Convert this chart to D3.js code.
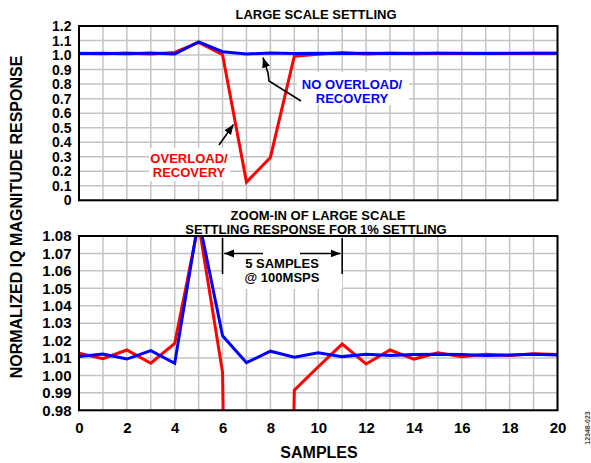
<!DOCTYPE html>
<html>
<head>
<meta charset="utf-8">
<script src="https://cdn.jsdelivr.net/npm/d3@7"></script>
<style>
  html, body { margin: 0; padding: 0; background: #fff; }
  svg { display: block; }
  text { font-family: Arial, "Liberation Sans", Helvetica, sans-serif; font-weight: bold; }
</style>
</head>
<body>
<svg id="chart" width="591" height="463"></svg>
<script>
// ---------- data ----------
const samples = [0,1,2,3,4,5,6,7,8,9,10,11,12,13,14,15,16,17,18,19,20];
const overloadRecovery = [1.0127, 1.0096, 1.0146, 1.0070, 1.0184, 1.087, 1.0018, 0.125, 0.295, 0.9916, 1.005,
                          1.018, 1.0066, 1.0146, 1.0094, 1.0130, 1.0108, 1.0122, 1.0115, 1.0125, 1.0120];
const noOverloadRecovery = [1.0108, 1.0123, 1.0094, 1.0142, 1.0070, 1.09, 1.0228, 1.0073, 1.0139, 1.0104, 1.0130,
                            1.0108, 1.0122, 1.0115, 1.0120, 1.0122, 1.0120, 1.0115, 1.0117, 1.0122, 1.0117];
const topYTicks = [0, 0.1, 0.2, 0.3, 0.4, 0.5, 0.6, 0.7, 0.8, 0.9, 1.0, 1.1, 1.2];
const botYTicks = [0.98, 0.99, 1.00, 1.01, 1.02, 1.03, 1.04, 1.05, 1.06, 1.07, 1.08];
const xTicks = [0, 2, 4, 6, 8, 10, 12, 14, 16, 18, 20];
const xGrid = samples;
const settleStart = 6, settleEnd = 11;

// ---------- layout ----------
const svg = d3.select("#chart");
const RED = "#ff0000", BLUE = "#0000ff", GRID = "#c4c4c4";
const x = d3.scaleLinear().domain([0, 20]).range([79, 557.5]);
const yTop = d3.scaleLinear().domain([0, 1.2]).range([200.3, 26]);
const yBot = d3.scaleLinear().domain([0.98, 1.08]).range([410.3, 236]);

svg.append("rect").attr("width", 591).attr("height", 463).attr("fill", "#fff");

const defs = svg.append("defs");
defs.append("marker").attr("id", "ah").attr("viewBox", "0 0 10 10")
  .attr("refX", 10).attr("refY", 5).attr("markerWidth", 10).attr("markerHeight", 10)
  .attr("markerUnits", "userSpaceOnUse").attr("orient", "auto")
  .append("path").attr("d", "M0,1 L10,5 L0,9 Z").attr("fill", "#000");

function label(parent, cx, y, s, size, color) {
  return parent.append("text").attr("x", cx).attr("y", y).attr("text-anchor", "middle")
    .attr("font-size", size).attr("fill", color).text(s);
}

function panel(y, yTicks, fmt, id, withX, fs) {
  const g = svg.append("g");
  const [y0, y1] = y.range();
  defs.append("clipPath").attr("id", id).append("rect")
    .attr("x", x(0)).attr("y", y1).attr("width", x(20) - x(0)).attr("height", y0 - y1);
  // grid
  g.append("g").selectAll("line").data(xGrid).join("line")
    .attr("x1", d => x(d)).attr("x2", d => x(d)).attr("y1", y1).attr("y2", y0)
    .attr("stroke", GRID).attr("stroke-width", 1.5);
  g.append("g").selectAll("line").data(yTicks).join("line")
    .attr("x1", x(0)).attr("x2", x(20)).attr("y1", d => y(d)).attr("y2", d => y(d))
    .attr("stroke", GRID).attr("stroke-width", 1.5);
  // y axis labels
  const ya = g.append("g").attr("transform", `translate(${x(0)},0)`)
    .call(d3.axisLeft(y).tickValues(yTicks).tickFormat(fmt).tickSize(0).tickPadding(7.5));
  ya.select(".domain").remove();
  ya.selectAll("text").attr("font-size", fs).attr("font-weight", "bold").attr("fill", "#000")
    .attr("font-family", "Arial, 'Liberation Sans', sans-serif");
  if (withX) {
    const xa = g.append("g").attr("transform", `translate(0,${y0})`)
      .call(d3.axisBottom(x).tickValues(xTicks).tickFormat(d3.format("d")).tickSize(0).tickPadding(12));
    xa.select(".domain").remove();
    xa.selectAll("text").attr("font-size", 15).attr("font-weight", "bold").attr("fill", "#000")
      .attr("font-family", "Arial, 'Liberation Sans', sans-serif");
  }
  return g;
}

function drawLines(g, y, id) {
  const line = d3.line().x((d, i) => x(samples[i])).y(d => y(d));
  const lg = g.append("g").attr("clip-path", `url(#${id})`);
  lg.append("path").datum(overloadRecovery).attr("d", line)
    .attr("fill", "none").attr("stroke", RED).attr("stroke-width", 3).attr("stroke-linejoin", "miter");
  lg.append("path").datum(noOverloadRecovery).attr("d", line)
    .attr("fill", "none").attr("stroke", BLUE).attr("stroke-width", 3).attr("stroke-linejoin", "miter");
}

function frame(g, y) {
  const [y0, y1] = y.range();
  g.append("rect").attr("x", x(0)).attr("y", y1).attr("width", x(20) - x(0)).attr("height", y0 - y1)
    .attr("fill", "none").attr("stroke", "#000").attr("stroke-width", 2);
}

// ---------- top panel ----------
const gTop = panel(yTop, topYTicks, d => d === 0 ? "0" : d3.format(".1f")(d), "clipTop", false, 14);
// annotation boxes
gTop.append("rect").attr("x", 149).attr("y", 148).attr("width", 81).attr("height", 33).attr("fill", "#fff");
gTop.append("rect").attr("x", 297).attr("y", 72).attr("width", 112).attr("height", 33).attr("fill", "#fff");
drawLines(gTop, yTop, "clipTop");
frame(gTop, yTop);

label(gTop, 189, 162.5, "OVERLOAD/", 13, RED);
label(gTop, 189, 176.5, "RECOVERY", 13, RED);
gTop.append("line").attr("x1", 219).attr("y1", 145).attr("x2", 233.5).attr("y2", 124.5)
  .attr("stroke", "#000").attr("stroke-width", 1.6).attr("marker-end", "url(#ah)");

label(gTop, 352, 88.5, "NO OVERLOAD/", 13, BLUE);
label(gTop, 352, 102.5, "RECOVERY", 13, BLUE);
gTop.append("path").attr("d", "M301,101 L269,81 L268,73 L263,57.5")
  .attr("fill", "none").attr("stroke", "#000").attr("stroke-width", 1.6).attr("marker-end", "url(#ah)");

label(svg, 316, 19, "LARGE SCALE SETTLING", 13, "#000");

// ---------- bottom panel ----------
const gBot = panel(yBot, botYTicks, d3.format(".2f"), "clipBot", true, 15);
gBot.append("rect").attr("x", x(settleStart)).attr("y", 237).attr("width", x(settleEnd) - x(settleStart))
  .attr("height", 52).attr("fill", "#fff");
drawLines(gBot, yBot, "clipBot");
frame(gBot, yBot);

[settleStart, settleEnd].forEach(s => {
  gBot.append("line").attr("x1", x(s)).attr("x2", x(s)).attr("y1", 238).attr("y2", 274)
    .attr("stroke", "#000").attr("stroke-width", 1.6);
});
gBot.append("line").attr("x1", 263).attr("y1", 253.5).attr("x2", x(settleStart) + 1.5).attr("y2", 253.5)
  .attr("stroke", "#000").attr("stroke-width", 1.6).attr("marker-end", "url(#ah)");
gBot.append("line").attr("x1", 300).attr("y1", 253.5).attr("x2", x(settleEnd) - 1.5).attr("y2", 253.5)
  .attr("stroke", "#000").attr("stroke-width", 1.6).attr("marker-end", "url(#ah)");
label(gBot, 282, 268, "5 SAMPLES", 13, "#000");
label(gBot, 282, 282, "@ 100MSPS", 13, "#000");

label(svg, 318, 219.5, "ZOOM-IN OF LARGE SCALE", 13, "#000");
label(svg, 316, 233.5, "SETTLING RESPONSE FOR 1% SETTLING", 13, "#000");

// ---------- axis titles ----------
svg.append("text").attr("transform", "translate(22,217) rotate(-90)").attr("text-anchor", "middle")
  .attr("font-size", 16).attr("fill", "#000").text("NORMALIZED IQ MAGNITUDE RESPONSE");
label(svg, 319, 458, "SAMPLES", 16, "#000");
svg.append("text").attr("transform", "translate(590,428) rotate(-90)").attr("text-anchor", "middle")
  .attr("font-size", 7).attr("font-weight", "normal").attr("fill", "#444").text("12348-023");
</script>
</body>
</html>
